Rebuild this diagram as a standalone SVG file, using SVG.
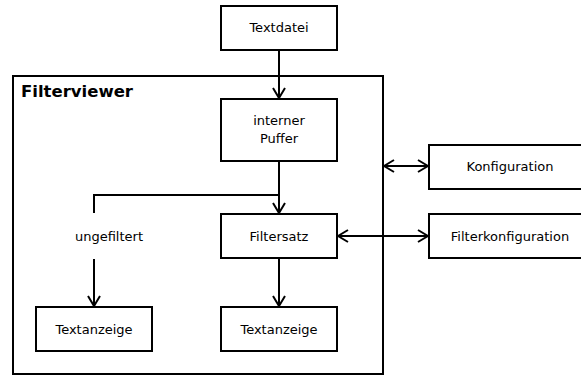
<svg xmlns="http://www.w3.org/2000/svg" width="581" height="376" viewBox="0 0 581 376">
<defs>
<style>
.box{fill:#fff;stroke:#000;stroke-width:2}
.t{font-family:"DejaVu Sans",sans-serif;font-size:13px;fill:#000;text-anchor:middle}
.ln{fill:none;stroke:#000;stroke-width:2}
</style>
<marker id="ah" viewBox="0 0 12 14" refX="11" refY="7" markerWidth="12" markerHeight="14" markerUnits="userSpaceOnUse" orient="auto-start-reverse">
<path d="M1,1 L11,7 L1,13" fill="none" stroke="#000" stroke-width="2"/>
</marker>
</defs>
<rect width="581" height="376" fill="#fff"/>
<g id="filterviewer">
<rect x="13" y="76" width="370" height="298" class="box"/>
<text x="21" y="97" style="font-family:'DejaVu Sans',sans-serif;font-size:16.5px;font-weight:bold">Filterviewer</text>
</g>
<g id="textdatei"><rect x="221" y="6" width="116" height="44" class="box"/><text x="279" y="32" class="t">Textdatei</text></g>
<g id="puffer"><rect x="221" y="99" width="116" height="62" class="box"/><text x="279" y="125" class="t">interner</text><text x="279" y="143" class="t">Puffer</text></g>
<g id="filtersatz"><rect x="221" y="214" width="116" height="44" class="box"/><text x="279" y="241" class="t">Filtersatz</text></g>
<g id="textanzeige1"><rect x="36" y="307" width="116" height="44" class="box"/><text x="94" y="334" class="t">Textanzeige</text></g>
<g id="textanzeige2"><rect x="221" y="307" width="116" height="44" class="box"/><text x="279" y="334" class="t">Textanzeige</text></g>
<g id="konfiguration"><rect x="429" y="145" width="160" height="44" class="box"/><text x="510" y="171" class="t">Konfiguration</text></g>
<g id="filterkonfiguration"><rect x="429" y="214" width="160" height="44" class="box"/><text x="510" y="241" class="t">Filterkonfiguration</text></g>
<g id="ungefiltert"><text x="109" y="241" class="t">ungefiltert</text></g>
<g id="connectors">
<path d="M279,50 V98" class="ln" marker-end="url(#ah)"/>
<path d="M279,161 V213" class="ln" marker-end="url(#ah)"/>
<path d="M279,195 H94 V213" class="ln"/>
<path d="M94,259 V306" class="ln" marker-end="url(#ah)"/>
<path d="M279,258 V306" class="ln" marker-end="url(#ah)"/>
<path d="M384,166 H428" class="ln" marker-start="url(#ah)" marker-end="url(#ah)"/>
<path d="M338,236 H428" class="ln" marker-start="url(#ah)" marker-end="url(#ah)"/>
</g>
</svg>
